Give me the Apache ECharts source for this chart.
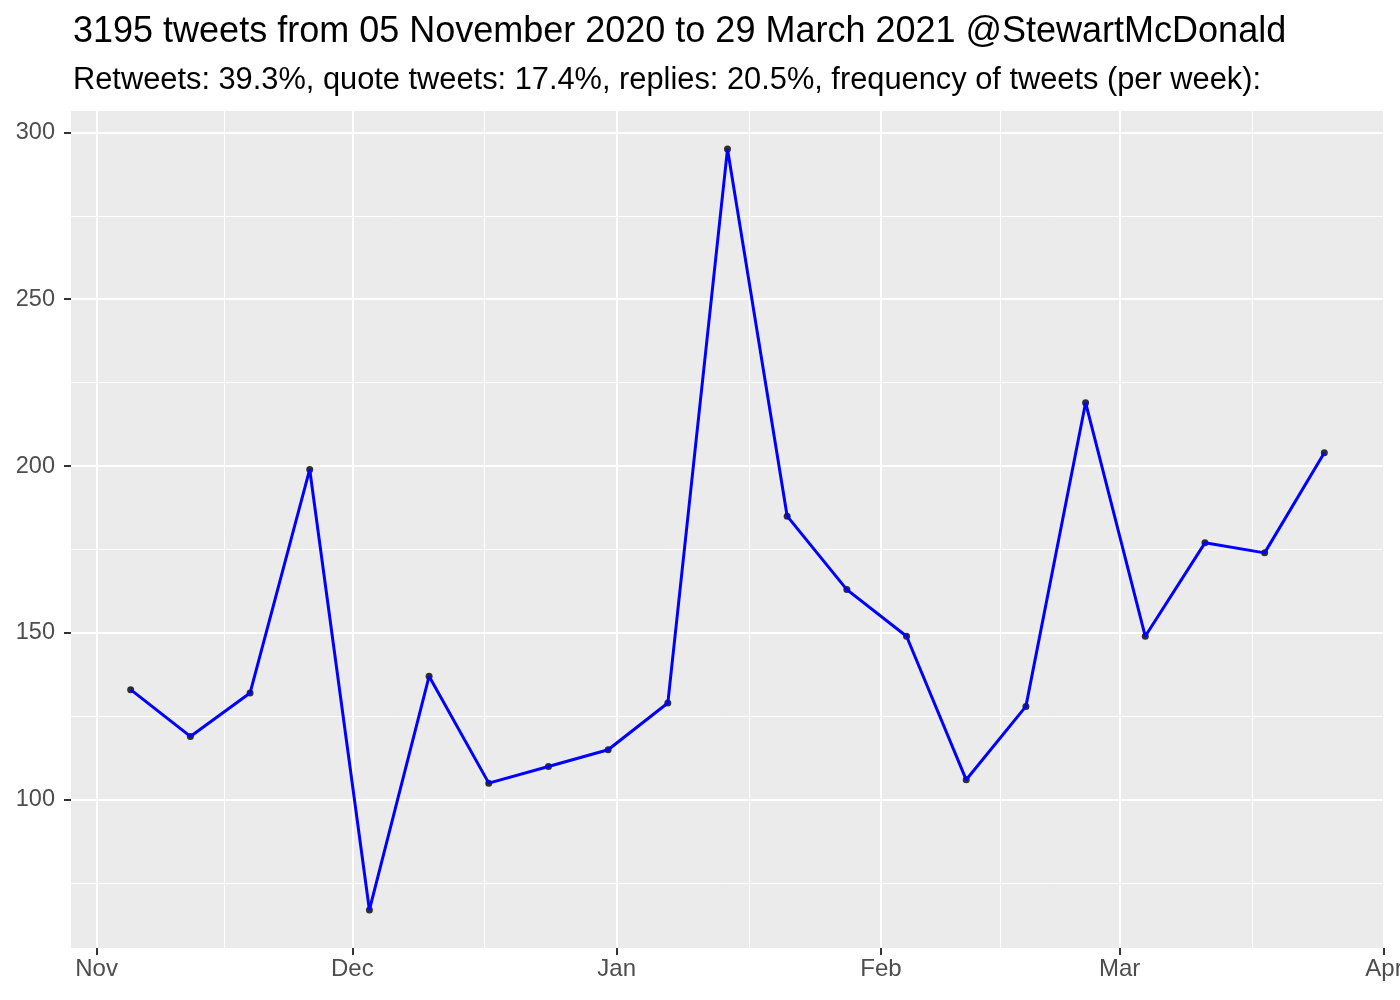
<!DOCTYPE html>
<html>
<head>
<meta charset="utf-8">
<title>tweets per week</title>
<script src="https://cdn.jsdelivr.net/npm/echarts@6/dist/echarts.min.js"></script>
<style>
  html, body { margin: 0; padding: 0; background: #fff; }
  #chart { width: 1400px; height: 1000px; }
</style>
</head>
<body>
<div id="chart"></div>
<script>
// weekly tweet counts
var weeks = ['2020-11-05', '2020-11-12', '2020-11-19', '2020-11-26', '2020-12-03', '2020-12-10', '2020-12-17',
  '2020-12-24', '2020-12-31', '2021-01-07', '2021-01-14', '2021-01-21', '2021-01-28', '2021-02-04',
  '2021-02-11', '2021-02-18', '2021-02-25', '2021-03-04', '2021-03-11', '2021-03-18', '2021-03-25'];
var tweets = [133, 119, 132, 199, 67, 137, 105, 110, 115, 129, 295, 185, 163, 149, 106, 128, 219, 149, 177, 174, 204];

// axis breaks
var monthBreaks = ['2020-11-01', '2020-12-01', '2021-01-01', '2021-02-01', '2021-03-01', '2021-04-01'];
var monthLabels = ['Nov', 'Dec', 'Jan', 'Feb', 'Mar', 'Apr'];
var monthMinorBreaks = ['2020-11-16', '2020-12-16 12:00', '2021-01-16 12:00', '2021-02-15', '2021-03-16 12:00'];
var yBreaks = [100, 150, 200, 250, 300];
var yMinorBreaks = [75, 125, 175, 225, 275];

var titleText = '3195 tweets from 05 November 2020 to 29 March 2021 @StewartMcDonald';
var subtitleText = 'Retweets: 39.3%, quote tweets: 17.4%, replies: 20.5%, frequency of tweets (per week):';

function ts(s) {
  return echarts.time.parse(s).getTime();
}

var xMin = ts('2020-10-29');
var xMax = ts('2021-04-01');
var yMin = 55.6;
var yMax = 306.4;

var majorX = monthBreaks.map(ts);
var minorX = monthMinorBreaks.map(ts);
var seriesData = weeks.map(function (w, i) {
  return [ts(w), tweets[i]];
});

var font = "'Liberation Sans', Arial, Helvetica, sans-serif";

var myChart = echarts.init(document.getElementById('chart'), null, { renderer: 'canvas' });
var option = {
  animation: false,
  backgroundColor: '#ffffff',
  title: [
    {
      text: titleText,
      left: 68,
      top: 9,
      textStyle: { color: '#000', fontSize: 36, fontWeight: 'normal', fontFamily: font }
    },
    {
      text: subtitleText,
      left: 68,
      top: 60,
      textStyle: { color: '#000', fontSize: 30.8, fontWeight: 'normal', fontFamily: font }
    }
  ],
  grid: {
    left: 71,
    right: 16,
    top: 111,
    bottom: 52,
    outerBoundsMode: 'none',
    containLabel: false,
    show: true,
    backgroundColor: '#EBEBEB',
    borderWidth: 0
  },
  xAxis: [
    {
      type: 'value',
      min: xMin,
      max: xMax,
      axisLine: { show: false },
      axisTick: {
        show: true,
        customValues: majorX,
        length: 7,
        lineStyle: { color: '#333333', width: 2 }
      },
      axisLabel: {
        show: true,
        customValues: majorX,
        margin: 9,
        color: '#4D4D4D',
        fontSize: 24,
        fontFamily: font,
        formatter: function (val) {
          var i = majorX.indexOf(val);
          return i >= 0 ? monthLabels[i] : '';
        }
      },
      splitLine: { show: true, lineStyle: { color: '#ffffff', width: 2 } }
    },
    {
      // minor grid lines
      type: 'value',
      min: xMin,
      max: xMax,
      position: 'bottom',
      axisLine: { show: false },
      axisTick: { show: false, customValues: minorX },
      axisLabel: { show: false, customValues: minorX },
      splitLine: { show: true, lineStyle: { color: '#ffffff', width: 1 } }
    }
  ],
  yAxis: [
    {
      type: 'value',
      min: yMin,
      max: yMax,
      axisLine: { show: false },
      axisTick: {
        show: true,
        customValues: yBreaks,
        length: 7,
        lineStyle: { color: '#333333', width: 2 }
      },
      axisLabel: {
        show: true,
        customValues: yBreaks,
        margin: 16,
        color: '#4D4D4D',
        fontSize: 23.5,
        fontFamily: font
      },
      splitLine: { show: true, lineStyle: { color: '#ffffff', width: 2 } }
    },
    {
      type: 'value',
      min: yMin,
      max: yMax,
      axisLine: { show: false },
      axisTick: { show: false, customValues: yMinorBreaks },
      axisLabel: { show: false, customValues: yMinorBreaks },
      splitLine: { show: true, lineStyle: { color: '#ffffff', width: 1 } }
    }
  ],
  series: [
    {
      // points under the line, like geom_point then geom_line
      type: 'scatter',
      data: seriesData,
      symbol: 'circle',
      symbolSize: 7,
      itemStyle: { color: '#000000' },
      z: 3
    },
    {
      type: 'line',
      data: seriesData,
      showSymbol: false,
      lineStyle: { color: '#0000FF', width: 3 },
      z: 4
    }
  ]
};
myChart.setOption(option);
window.addEventListener('resize', function () {
  myChart.resize();
});
</script>
</body>
</html>
